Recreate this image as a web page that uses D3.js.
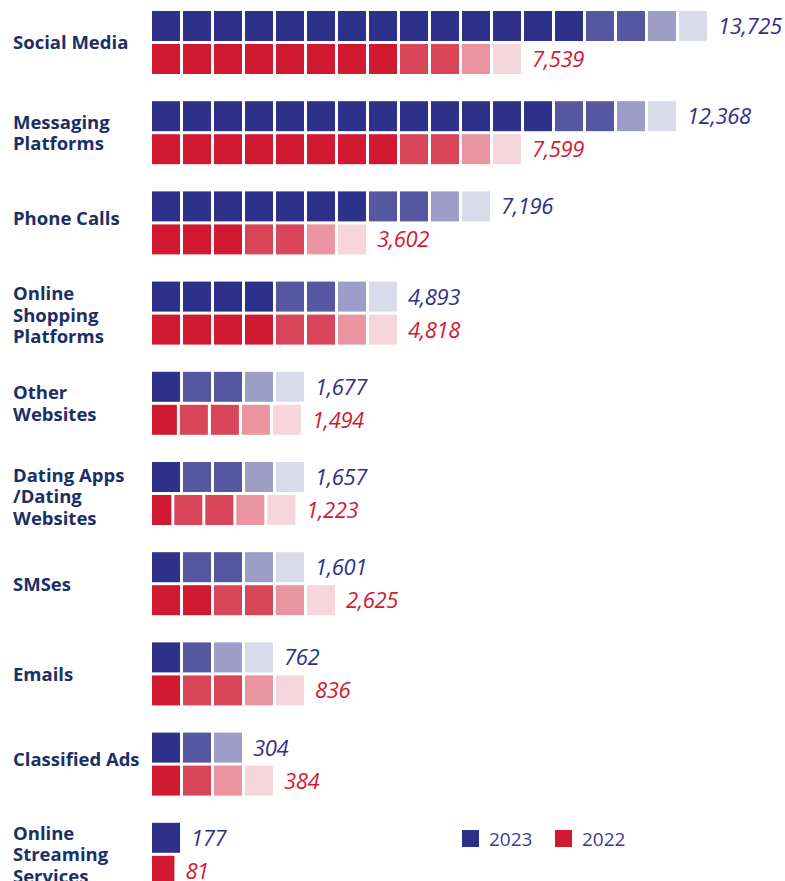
<!DOCTYPE html>
<html><head><meta charset="utf-8">
<script src="https://cdn.jsdelivr.net/npm/d3@7"></script>
<style>body{margin:0;background:#fff}svg{display:block}</style>
</head><body><svg id="c" width="785" height="881"></svg>
<script>
const categories = ["Social Media","Messaging Platforms","Phone Calls","Online Shopping Platforms","Other Websites","Dating Apps /Dating Websites","SMSes","Emails","Classified Ads","Online Streaming Services"];
const labelLines = [["Social Media"],["Messaging","Platforms"],["Phone Calls"],["Online","Shopping","Platforms"],["Other","Websites"],["Dating Apps","/Dating","Websites"],["SMSes"],["Emails"],["Classified Ads"],["Online","Streaming","Services"]];
const values2023 = [13725,12368,7196,4893,1677,1657,1601,762,304,177];
const values2022 = [7539,7599,3602,4818,1494,1223,2625,836,384,81];
// icons per shade: [dark, medium, light, faint]
const icons2023 = [[14,2,1,1],[13,2,1,1],[7,2,1,1],[4,2,1,1],[1,2,1,1],[1,2,1,1],[1,2,1,1],[1,1,1,1],[1,1,1,0],[1,0,0,0]];
const icons2022 = [[8,2,1,1],[8,2,1,1],[3,2,1,1],[4,2,1,1],[0.9,2,1,1],[0.72,2,1,1],[2,2,1,1],[1,2,1,1],[1,1,1,1],[0.82,0,0,0]];
const seriesNames = ["2023","2022"];

// styling / layout (not data)
const blueShades = ["#2e3189","#5558a0","#9c9ec7","#dadbea"];
const redShades = ["#d11a31","#d94558","#e9949e","#f6d6dc"];
const labelNudge = [0,0,-5,2,0,3,0,0,-5,0];

const svg = d3.select("#c");
const y = d3.scaleBand().domain(categories).range([11, 11 + 90.2 * categories.length]);
const x = d3.scaleLinear().domain([0, 1]).range([152, 183]);
const gap = 3, rowH = 30, rowOff = 33;
const fmt = d3.format(",");

function expand(counts) {
  const out = []; let s = 0;
  counts.forEach((n, shade) => {
    let rem = n;
    while (rem > 1e-9) {
      const size = Math.min(1, rem);
      out.push({start: s, size, shade});
      s += size; rem -= size;
    }
  });
  return {icons: out, total: s};
}

const series = [
  {name: seriesNames[0], values: values2023, icons: icons2023, shades: blueShades, off: 0, color: "#2e3189"},
  {name: seriesNames[1], values: values2022, icons: icons2022, shades: redShades, off: rowOff, color: "#d11a31"}
];

categories.forEach((c, i) => {
  const g = svg.append("g");
  const top = y(c);
  const lines = labelLines[i];
  const lh = 21.5;
  const center = top + 31.5 + labelNudge[i];
  const t = g.append("text").attr("x", 13).attr("font-family", "Open Sans").attr("font-weight", 700)
    .attr("font-size", 18.5).attr("fill", "#1b2f66");
  lines.forEach((ln, k) => {
    t.append("tspan").attr("x", 13).attr("y", center + (k - (lines.length - 1) / 2) * lh + 6.8).text(ln);
  });
  series.forEach(s => {
    const e = expand(s.icons[i]);
    const rowY = top + s.off;
    g.selectAll(null).data(e.icons).join("rect")
      .attr("x", d => x(d.start))
      .attr("y", rowY)
      .attr("width", d => x(d.start + d.size) - x(d.start) - gap)
      .attr("height", rowH)
      .attr("fill", d => s.shades[d.shade]);
    g.append("text")
      .attr("x", x(e.total) - gap + 11)
      .attr("y", rowY + 15 + 8)
      .attr("font-family", "Open Sans").attr("font-style", "italic").attr("font-size", 22)
      .attr("letter-spacing", -0.4)
      .attr("fill", s.color).text(fmt(s.values[i]));
  });
});

// legend
const legend = svg.append("g");
const lx = [462, 555];
series.forEach((s, k) => {
  legend.append("rect").attr("x", lx[k]).attr("y", 830).attr("width", 17).attr("height", 17).attr("fill", s.color);
  legend.append("text").attr("x", lx[k] + 27).attr("y", 845.5).attr("font-family", "Open Sans")
    .attr("font-size", 19).attr("fill", "#3a3d8f").text(s.name);
});
</script>
</body></html>
